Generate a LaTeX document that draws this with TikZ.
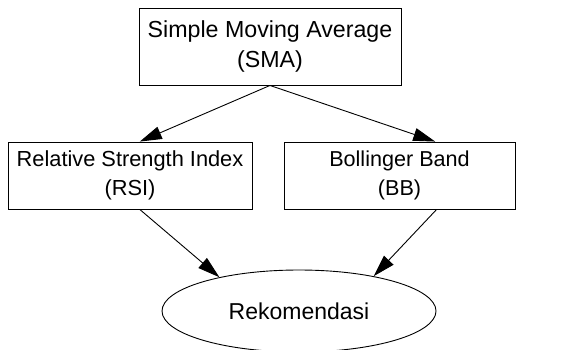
\documentclass[tikz,border=0pt]{standalone}
\usepackage{fontspec}
\setmainfont{Liberation Sans}
\usetikzlibrary{arrows.meta,shapes.geometric,calc}
\begin{document}
\begin{tikzpicture}[x=1pt,y=-1pt,
  box/.style={draw,line width=0.9pt,rectangle,inner sep=0pt,align=center},
  oval/.style={draw,line width=0.9pt,ellipse,inner sep=0pt},
  arr/.style={line width=0.9pt,-{Triangle[length=22pt,width=13pt]}}]
\useasboundingbox (0,0) rectangle (561,349);
\node[box,minimum width=262pt,minimum height=77pt,font=\fontsize{23.2}{30}\selectfont] (sma) at (270,46.5) {Simple Moving Average\\(SMA)};
\node[box,minimum width=244pt,minimum height=67pt,font=\fontsize{21.8}{29}\selectfont] (rsi) at (130,175.5) {Relative Strength Index\\(RSI)};
\node[box,minimum width=231pt,minimum height=67pt,font=\fontsize{21.6}{29}\selectfont] (bb) at (399.5,175.5) {Bollinger Band\\(BB)};
\node[oval,minimum width=274pt,minimum height=82pt,font=\fontsize{23}{29}\selectfont] (rek) at (299,311) {Rekomendasi};
\draw[arr] (sma.south) -- ($(rsi.north west)!0.54!(rsi.north east)$);
\draw[arr] (sma.south) -- ($(bb.north west)!0.654!(bb.north east)$);
\draw[arr] ($(rsi.south west)!0.54!(rsi.south east)$) -- (rek.157);
\draw[arr] ($(bb.south west)!0.66!(bb.south east)$) -- (rek.25);
\end{tikzpicture}
\end{document}
